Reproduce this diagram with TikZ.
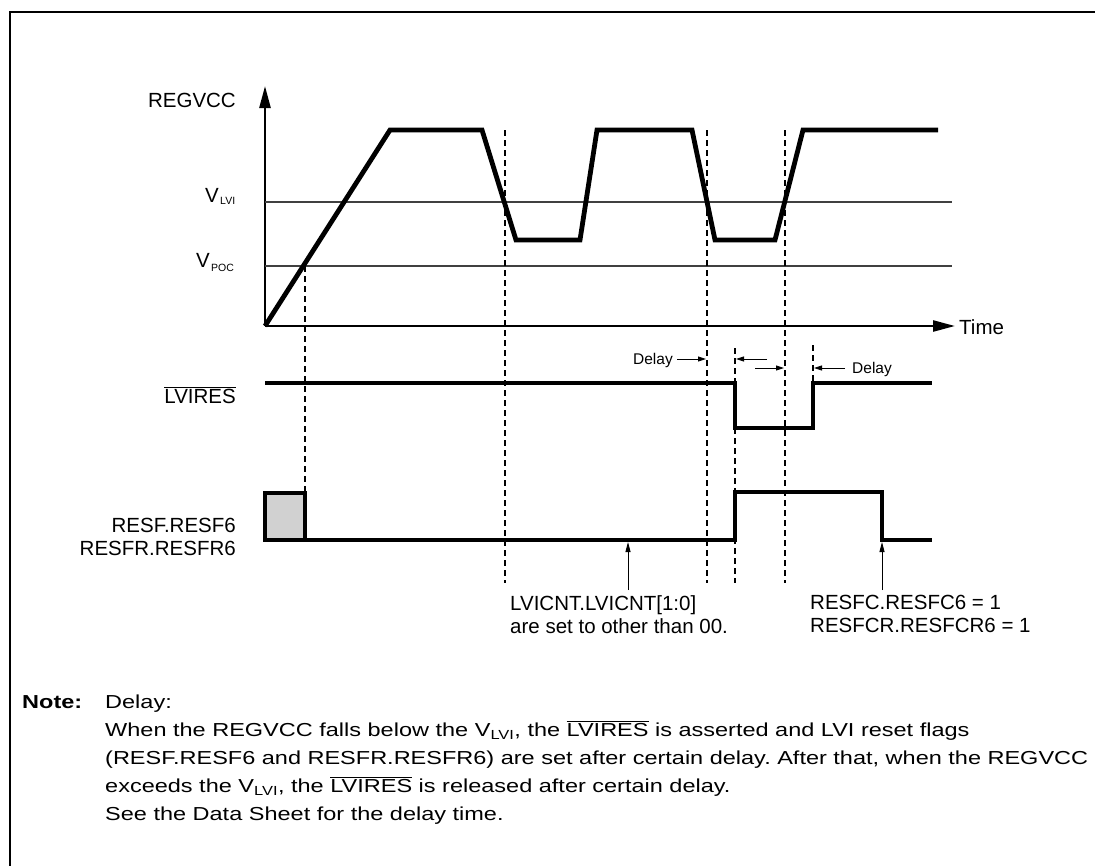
\documentclass[tikz,border=0pt]{standalone}
\usepackage{fontspec}
\setmainfont{Liberation Sans}
\newfontfamily\notefont[FakeStretch=1.25]{Liberation Sans}
\frenchspacing
\usetikzlibrary{arrows.meta}
\begin{document}
\begin{tikzpicture}[x=1pt,y=-1pt,
  wave/.style={line width=4.8pt,line join=miter},
  sig/.style={line width=3.5pt,line join=miter},
  axis/.style={line width=2.5pt,-{Triangle[length=22pt,width=11pt]}},
  level/.style={line width=1.1pt,black!75},
  dashline/.style={line width=1.1pt,dash pattern=on 6pt off 4pt},
  dly/.style={line width=0.9pt,-{Triangle[length=8pt,width=5pt]}},
  ptr/.style={line width=0.9pt,-{Triangle[length=10pt,width=5pt]}},
  lbl/.style={font=\fontsize{20.5}{23}\selectfont,inner sep=0pt},
  sub/.style={font=\fontsize{10.5}{12}\selectfont,inner sep=0pt,anchor=base west},
  small/.style={font=\fontsize{15.5}{18}\selectfont,inner sep=0pt},
  note/.style={font=\notefont\fontsize{18.8}{28}\selectfont,inner sep=0pt,anchor=base west}]
\useasboundingbox (0,0) rectangle (1095,865);
\coordinate (fbl) at (10,866); \coordinate (ftl) at (10,12); \coordinate (ftr) at (1096,12);
\draw[line width=1.7pt] (fbl) -- (ftl) -- (ftr);
% axes
\coordinate (O) at (265,326);
\coordinate (Ytop) at (265,86);
\coordinate (Xend) at (955,326);
\draw[axis] (O) -- (Ytop);
\draw[axis] (O) -- (Xend);
% levels
\coordinate (lviL) at (265,202); \coordinate (lviR) at (952,202);
\coordinate (pocL) at (265,266); \coordinate (pocR) at (952,266);
\draw[level] (lviL) -- (lviR);
\draw[level] (pocL) -- (pocR);
% dashed markers
\coordinate (d1a) at (305,266); \coordinate (d1b) at (305,492);
\coordinate (d2a) at (505,130); \coordinate (d2b) at (505,583);
\coordinate (d3a) at (707,130); \coordinate (d3b) at (707,583);
\coordinate (d4a) at (735,348); \coordinate (d4b) at (735,583);
\coordinate (d5a) at (785,130); \coordinate (d5b) at (785,583);
\coordinate (d6a) at (813,345); \coordinate (d6b) at (813,383);
\foreach \i in {1,...,6} {\draw[dashline] (d\i a) -- (d\i b);}
% REGVCC waveform
\draw[wave] (O) -- (390,130) -- (482,130) -- (516,240) -- (580,240) -- (597,130)
  -- (692,130) -- (715,240) -- (775,240) -- (803,130) -- (938,130);
% LVIRES
\draw[sig] (265,383) -- (735,383) -- (735,428) -- (813,428) -- (813,383) -- (932,383);
% RESF
\draw[sig,fill=black!18] (265,540) rectangle (305,493);
\draw[sig] (305,540) -- (735,540) -- (735,492) -- (882,492) -- (882,540) -- (932,540);
% labels left
\node[lbl,anchor=base east] (regvcc) at (236,107) {REGVCC};
\node[lbl,anchor=base east] (vlvi) at (219,202) {V};
\node[sub] (vlvis) at (220,204) {LVI};
\node[lbl,anchor=base east] (vpoc) at (210,267) {V};
\node[sub] (vpocs) at (211,271) {POC};
\node[lbl,anchor=base east] (lvires) at (236,403) {$\overline{\mbox{LVIRES}}$};
\node[lbl,anchor=base east] (resf) at (236,532) {RESF.RESF6};
\node[lbl,anchor=base east] (resfr) at (236,555) {RESFR.RESFR6};
\node[lbl,anchor=west] (time) at (959,327) {Time};
% delay annotations
\node[small,anchor=east] (delay1) at (673,360) {Delay};
\coordinate (a1s) at (677,359); \coordinate (a1e) at (706,359);
\coordinate (a2s) at (767,359); \coordinate (a2e) at (736,359);
\draw[dly] (a1s) -- (a1e);
\draw[dly] (a2s) -- (a2e);
\coordinate (a3s) at (755,368); \coordinate (a3e) at (784,368);
\coordinate (a4s) at (845,368); \coordinate (a4e) at (814,368);
\draw[dly] (a3s) -- (a3e);
\draw[dly] (a4s) -- (a4e);
\node[small,anchor=west] (delay2) at (852,369) {Delay};
% pointers
\node[lbl,anchor=north west,align=left] (lvicnt) at (510,595) {LVICNT.LVICNT[1:0]\\are set to other than 00.};
\node[lbl,anchor=north west,align=left] (resfc) at (810,595) {RESFC.RESFC6 = 1\\RESFCR.RESFCR6 = 1};
\coordinate (p1s) at (628,590); \coordinate (p1e) at (628,542);
\coordinate (p2s) at (882,590); \coordinate (p2e) at (882,542);
\draw[ptr] (p1s) -- (p1e);
\draw[ptr] (p2s) -- (p2e);
% note
\node[note,font=\notefont\fontsize{18.8}{28}\selectfont\bfseries] (notelbl) at (22,708) {Note:};
\node[note] (n1) at (105,708) {Delay:};
\node[note] (n2) at (105,736) {When the REGVCC falls below the V\textsubscript{LVI}, the $\overline{\mbox{LVIRES}}$ is asserted and LVI reset flags};
\node[note] (n3) at (105,764) {(RESF.RESF6 and RESFR.RESFR6) are set after certain delay. After that, when the REGVCC};
\node[note] (n4) at (105,792) {exceeds the V\textsubscript{LVI}, the $\overline{\mbox{LVIRES}}$ is released after certain delay.};
\node[note] (n5) at (105,820) {See the Data Sheet for the delay time.};
\end{tikzpicture}
\end{document}
